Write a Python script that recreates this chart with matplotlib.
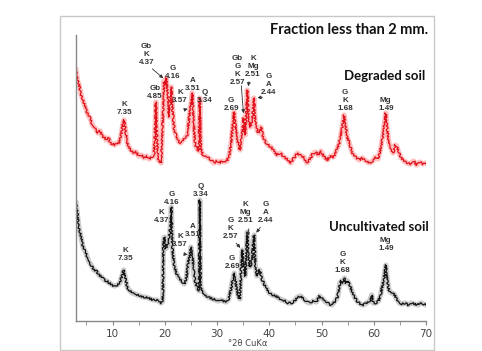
import matplotlib.pyplot as plt
import matplotlib.patches as patches

# 2-theta positions and intensities (arbitrary units)
deg_theta = [3.0, 3.3, 3.6, 4.0, 4.5, 4.9, 5.3, 5.7, 6.1, 6.4, 6.8, 7.2, 7.6, 8.0, 8.4, 8.8,
             9.2, 9.6, 10.0, 10.4, 10.8, 11.2, 11.6, 12.0, 12.2, 12.5, 12.8, 13.1, 13.5, 14.0,
             14.5, 15.0, 15.5, 16.0, 16.5, 17.0, 17.5, 17.9, 18.1, 18.3, 18.5, 18.7, 19.0,
             19.3, 19.6, 19.85, 20.1, 20.3, 20.6, 20.8, 21.0, 21.25, 21.5, 21.8, 22.2, 22.6,
             23.0, 23.5, 24.0, 24.3, 24.6, 24.85, 25.1, 25.25, 25.5, 25.8, 26.2, 26.5, 26.7,
             26.9, 27.2, 27.6, 28.1, 28.6, 29.0, 29.4, 29.9, 30.4, 30.9, 31.4, 31.9, 32.3,
             32.7, 33.0, 33.25, 33.5, 33.9, 34.4, 34.8, 35.1, 35.4, 35.8, 36.1, 36.4, 36.7,
             37.05, 37.3, 37.6, 38.0, 38.4, 38.8, 39.2, 39.7, 40.3, 40.9, 41.5, 42.1, 42.8,
             43.4, 44.1, 44.7, 45.4, 46.0, 46.6, 47.2, 47.8, 48.3, 48.8, 49.4, 49.9, 50.5,
             51.1, 51.7, 52.3, 52.8, 53.4, 53.9, 54.3, 54.6, 54.9, 55.3, 55.9, 56.5, 57.2,
             57.8, 58.5, 59.2, 59.8, 60.3, 60.8, 61.3, 61.7, 62.0, 62.3, 62.6, 62.9, 63.3,
             63.7, 64.1, 64.4, 64.8, 65.3, 65.8, 66.4, 67.0, 67.6, 68.2, 68.8, 69.4, 70.0]
deg_int = [251, 240, 236, 226, 218, 212, 206, 203, 196, 194, 192, 188, 190, 185, 184, 181,
           183, 178, 177, 176, 178, 178, 185, 198, 201, 190, 178, 174, 171, 168,
           169, 165, 166, 163, 165, 162, 164, 165, 185, 219, 185, 161, 160,
           158, 200, 240, 236, 243, 220, 204, 215, 234, 210, 191, 185, 180,
           178, 181, 184, 186, 200, 213, 220, 228, 200, 176, 172, 170, 223,
           172, 167, 165, 164, 162, 160, 158, 160, 158, 160, 159, 160, 165,
           178, 195, 209, 195, 181, 171, 185, 203, 186, 231, 200, 194, 200,
           223, 200, 191, 188, 194, 184, 180, 176, 174, 170, 166, 168, 164,
           162, 158, 163, 168, 165, 164, 158, 162, 167, 169, 166, 170, 164,
           161, 165, 164, 170, 178, 192, 206, 196, 184, 178, 168, 164, 161,
           163, 160, 158, 160, 164, 162, 172, 184, 196, 208, 190, 178, 172,
           168, 176, 175, 168, 163, 160, 158, 157, 160, 156, 159, 157, 158]

unc_theta = [3.0, 3.2, 3.5, 3.9, 4.4, 4.9, 5.4, 5.9, 6.4, 6.9, 7.4, 7.9, 8.4, 8.9, 9.4,
             9.9, 10.4, 10.9, 11.4, 11.8, 12.1, 12.4, 12.8, 13.3, 13.8, 14.3, 14.8, 15.3,
             15.8, 16.3, 16.8, 17.3, 17.8, 18.3, 18.8, 19.3, 19.6, 19.75, 19.9, 20.1, 20.4,
             20.7, 20.95, 21.15, 21.25, 21.45, 21.8, 22.2, 22.7, 23.2, 23.7, 24.1, 24.5,
             24.8, 25.0, 25.3, 25.6, 25.9, 26.3, 26.55, 26.7, 26.85, 27.2, 27.7, 28.2,
             28.7, 29.2, 29.7, 30.2, 30.7, 31.2, 31.7, 32.2, 32.6, 32.9, 33.3, 33.7, 34.1,
             34.4, 34.6, 34.85, 35.1, 35.4, 35.65, 35.8, 36.0, 36.3, 36.7, 36.9, 37.1,
             37.35, 37.6, 37.9, 38.2, 38.6, 39.0, 39.5, 40.0, 40.6, 41.2, 41.8, 42.4, 43.0,
             43.6, 44.2, 44.8, 45.4, 46.0, 46.6, 47.2, 47.8, 48.4, 49.0, 49.6, 50.2, 50.8,
             51.4, 52.0, 52.6, 53.1, 53.5, 53.8, 54.1, 54.4, 54.7, 55.0, 55.4, 55.8, 56.3,
             56.8, 57.4, 58.0, 58.6, 59.2, 59.6, 59.9, 60.4, 60.9, 61.3, 61.7, 62.0, 62.3,
             62.6, 62.9, 63.4, 63.9, 64.4, 64.9, 65.4, 66.0, 66.6, 67.2, 67.8, 68.4, 69.0,
             69.6, 70.0]
unc_int = [118, 110, 95, 85, 73, 68, 60, 56, 51, 50, 46, 44, 41, 40, 38,
           36, 35, 36, 38, 45, 51, 44, 34, 30, 28, 27, 26, 25,
           24, 24, 23, 22, 21, 21, 20, 18, 20, 80, 84, 72, 74,
           80, 88, 100, 114, 72, 56, 48, 43, 40, 37, 42, 60,
           65, 74, 64, 45, 38, 32, 30, 121, 34, 30, 26, 24,
           23, 22, 21, 20, 21, 20, 19, 22, 30, 39, 48, 34, 24,
           22, 50, 71, 55, 45, 70, 89, 62, 54, 60, 78, 86,
           55, 45, 48, 51, 42, 37, 33, 28, 26, 25, 23, 21, 20,
           18, 18, 20, 24, 25, 22, 19, 18, 20, 19, 25, 22, 19,
           17, 16, 20, 24, 38, 40, 38, 43, 38, 40, 36, 30, 24,
           20, 17, 16, 18, 20, 26, 18, 18, 20, 26, 36, 45, 56,
           40, 31, 28, 27, 22, 18, 17, 18, 16, 18, 17, 16, 18,
           17, 16]

# peak labels: (text, text x, text y, arrow target or None)
deg_labels = [
    ("K\n7.35", 12.2, 212, None),
    ("Gb\n4.85", 18.1, 228, None),
    ("Gb\nK\n4.37", 16.5, 267, (20.1, 241)),
    ("G\n4.16", 21.6, 248, None),
    ("A\n3.51", 25.4, 236, None),
    ("K\n3.57", 22.9, 224, (24.9, 213)),
    ("Q\n3.34", 27.7, 225, None),
    ("G\n2.69", 32.7, 217, None),
    ("Gb\nG\nK\n2.57", 33.9, 251, (35.1, 205)),
    ("K\nMg\n2.51", 36.9, 255, (35.9, 232)),
    ("G\nA\n2.44", 39.9, 237, (37.2, 223)),
    ("G\nK\n1.68", 54.5, 221, None),
    ("Mg\n1.49", 62.3, 217, None),
]
unc_labels = [
    ("K\n7.35", 12.5, 66, None),
    ("K\n4.37", 19.3, 105, None),
    ("G\n4.16", 21.25, 123, None),
    ("K\n3.57", 22.9, 80, (24.9, 66)),
    ("A\n3.51", 25.3, 90, None),
    ("Q\n3.34", 26.9, 130, None),
    ("G\n2.69", 32.9, 59, None),
    ("G\nK\n2.57", 32.6, 93, (34.8, 71)),
    ("K\nMg\n2.51", 35.5, 108, (35.7, 82)),
    ("G\nA\n2.44", 39.3, 109, (37.2, 86)),
    ("G\nK\n1.68", 54.0, 59, None),
    ("Mg\n1.49", 62.3, 76, None),
]

x_ticks = [10, 20, 30, 40, 50, 60, 70]
x_minor = [5, 15, 25, 35, 45, 55, 65]


def draw_trace(ax, x, y, dark, light):
    # a light halo plus a slightly rough line stand in for the scan noise
    ax.plot(x, y, color=light, linewidth=3.8, alpha=0.3)
    line, = ax.plot(x, y, color=dark, linewidth=0.9)
    line.set_sketch_params(1.0, 1.5, 1.5)


def draw_labels(ax, labels):
    for text, tx, ty, target in labels:
        ax.text(tx, ty, text, ha='center', va='center', fontsize=5.8,
                fontweight='bold', color='#333333', linespacing=1.2,
                family='Liberation Sans')
        if target is not None:
            side = 1 if target[0] > tx else -1
            ax.annotate('', xy=target, xytext=(tx + 0.7 * side, ty - 13),
                        arrowprops=dict(arrowstyle='-|>', color='#333333', lw=0.6,
                                        mutation_scale=5))


fig = plt.figure(figsize=(4.82, 3.51), dpi=100)
fig.patches.append(patches.Rectangle((60 / 482, 1 / 351), 374 / 482, 334 / 351,
                                     transform=fig.transFigure, fill=False,
                                     edgecolor='#c8c8c8', linewidth=1.0))

ax = fig.add_axes([76 / 482, 30 / 351, 350 / 482, 286 / 351])
draw_trace(ax, deg_theta, deg_int, '#e0101a', '#ff3030')
draw_trace(ax, unc_theta, unc_int, '#111111', '#555555')
draw_labels(ax, deg_labels)
draw_labels(ax, unc_labels)

ax.text(62.0, 245, 'Degraded soil', ha='center', va='center', fontsize=9.5,
        fontweight='bold', family='Lato', color='#111111')
ax.text(61.0, 94, 'Uncultivated soil', ha='center', va='center', fontsize=9.5,
        fontweight='bold', family='Lato', color='#111111')
fig.text(349 / 482, 1 - 30 / 351, 'Fraction less than 2 mm.', ha='center', va='center',
         fontsize=10.5, fontweight='bold', family='Lato', color='#111111')

ax.set_xlim(3, 70)
ax.set_ylim(0, 286)
ax.set_xticks(x_ticks)
ax.set_xticks(x_minor, minor=True)
ax.set_yticks([])
for side in ['top', 'right']:
    ax.spines[side].set_visible(False)
for side in ['left', 'bottom']:
    ax.spines[side].set_color('#888888')
    ax.spines[side].set_linewidth(1.0)
ax.tick_params(axis='x', which='both', direction='out', length=3, color='#888888',
               labelsize=7.5, labelcolor='#444444', pad=3)
ax.text(0.49, -0.078, '°2θ CuKα', transform=ax.transAxes, ha='center', va='center',
        fontsize=6, color='#444444')

plt.savefig('out.png', dpi=100)
